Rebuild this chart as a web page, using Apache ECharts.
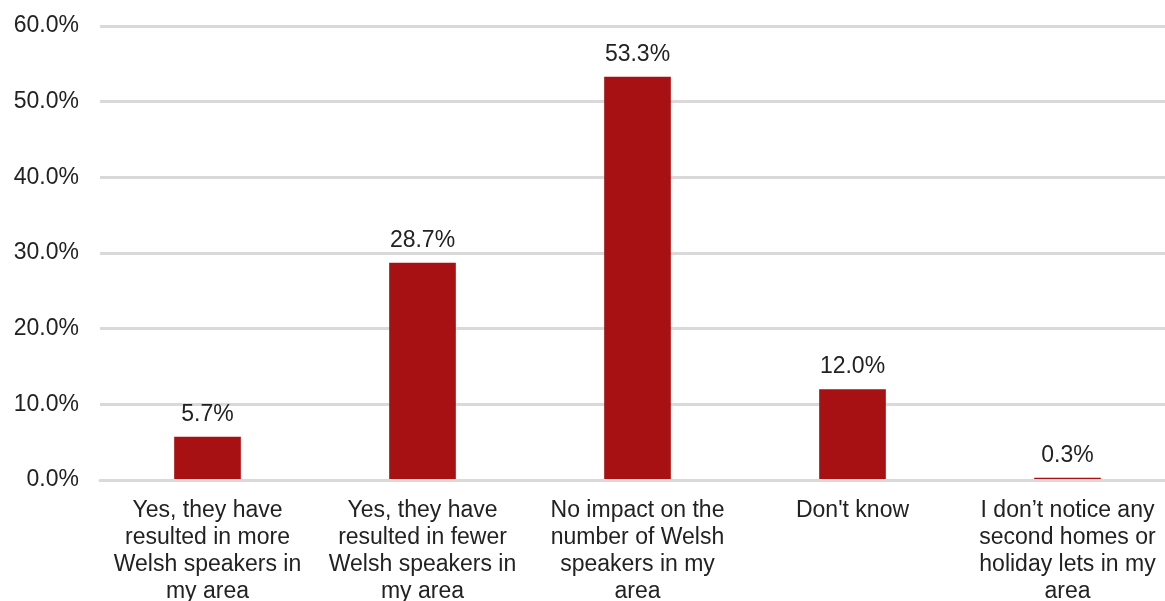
<!DOCTYPE html>
<html>
<head>
<meta charset="utf-8">
<script src="https://cdn.jsdelivr.net/npm/echarts@6/dist/echarts.min.js"></script>
<style>
  html, body { margin: 0; padding: 0; background: #ffffff; }
  #chart { width: 1165px; height: 601px; }
</style>
</head>
<body>
<div id="chart"></div>
<script>
// Survey responses: effect of second homes / holiday lets on Welsh speakers
const categories = [
  "Yes, they have\nresulted in more\nWelsh speakers in\nmy area",
  "Yes, they have\nresulted in fewer\nWelsh speakers in\nmy area",
  "No impact on the\nnumber of Welsh\nspeakers in my\narea",
  "Don't know",
  "I don\u2019t notice any\nsecond homes or\nholiday lets in my\narea"
];
const shares = [5.7, 28.7, 53.3, 12.0, 0.3];
const yTicks = [0, 10, 20, 30, 40, 50, 60];

const FONT = '"Liberation Sans", Arial, sans-serif';
const TEXT = '#222222';
const SIZE = 23;

const chart = echarts.init(document.getElementById('chart'), null, { renderer: 'canvas' });
chart.setOption({
  animation: false,
  backgroundColor: '#ffffff',
  grid: { left: 100, right: -10, top: 26, bottom: 121, containLabel: false, outerBoundsMode: 'none' },
  xAxis: {
    type: 'category',
    data: categories,
    z: 3,
    axisLine: { show: true, lineStyle: { color: '#d9d9d9', width: 3 } },
    axisTick: { show: false },
    axisLabel: {
      interval: 0,
      margin: 17,
      color: TEXT,
      fontFamily: FONT,
      fontSize: SIZE,
      lineHeight: 27,
      align: 'center'
    }
  },
  yAxis: {
    type: 'value',
    min: yTicks[0],
    max: yTicks[yTicks.length - 1],
    interval: 10,
    axisLine: { show: false },
    axisTick: { show: false },
    splitLine: { show: true, lineStyle: { color: '#d9d9d9', width: 3 } },
    axisLabel: {
      margin: 21,
      padding: [4, 0, 0, 0],
      color: TEXT,
      fontFamily: FONT,
      fontSize: SIZE,
      formatter: v => v.toFixed(1) + '%'
    }
  },
  series: [{
    type: 'bar',
    data: shares,
    barWidth: '31%',
    itemStyle: { color: '#a81113' },
    label: {
      show: true,
      position: 'top',
      distance: 11,
      color: TEXT,
      fontFamily: FONT,
      fontSize: SIZE,
      formatter: p => p.value.toFixed(1) + '%'
    }
  }]
});
</script>
</body>
</html>
